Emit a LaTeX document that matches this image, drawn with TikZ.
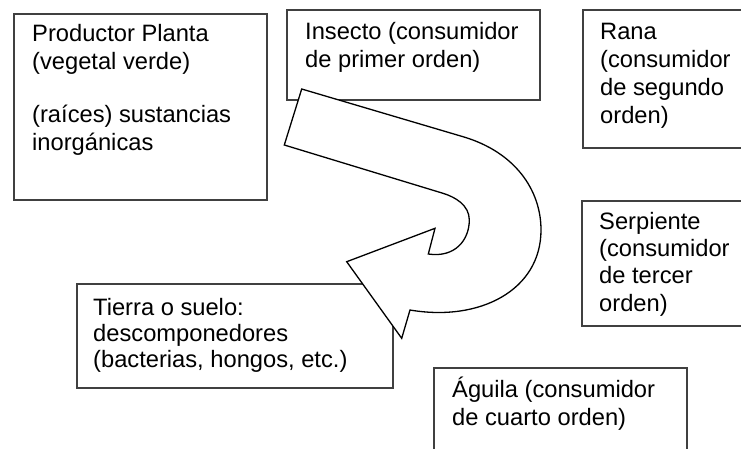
\documentclass[tikz,border=0pt]{standalone}
\usepackage{fontspec}
\setmainfont{Liberation Sans}
\tikzset{
  caja/.style={draw=black!75, line width=1.6pt, fill=white, inner sep=0pt, anchor=north west},
  texto/.style={anchor=base west, align=left, inner sep=0pt, font=\fontsize{23.7}{28}\selectfont}
}

\begin{document}
\begin{tikzpicture}[x=1pt, y=-1pt]
\useasboundingbox (0,0) rectangle (741,448);
\clip (0,0) rectangle (741,448);

\node[caja, minimum width=253pt, minimum height=186pt] (planta) at (13,13) {};
\node[caja, minimum width=253pt, minimum height=90pt] (insecto) at (286,9) {};
\node[caja, minimum width=200pt, minimum height=138pt] (rana) at (582,9) {};
\node[caja, minimum width=200pt, minimum height=125pt] (serpiente) at (581,200) {};
\node[caja, minimum width=316pt, minimum height=104pt] (tierra) at (76,283) {};
\node[caja, minimum width=253pt, minimum height=120pt] (aguila) at (433,367) {};

% texts placed by the baseline of their last line
\node[texto] (plantatxt) at (32,150.5) {Productor Planta\\(vegetal verde)\\[25pt](raíces) sustancias\\inorgánicas};
\node[texto] (insectotxt) at (305,67) {Insecto (consumidor\\de primer orden)};
\node[texto] (ranatxt) at (600,123) {Rana\\(consumidor\\de segundo\\orden)};
\node[texto, font=\fontsize{23.7}{27.3}\selectfont] (serpientetxt) at (599,311) {Serpiente\\(consumidor\\de tercer\\orden)};
\node[texto, font=\fontsize{23.7}{25.8}\selectfont] (tierratxt) at (93,367.5) {Tierra o suelo:\\descomponedores\\(bacterias, hongos, etc.)};
\node[texto] (aguilatxt) at (452,425) {Águila (consumidor\\de cuarto orden)};

\coordinate (A) at (301.7,89);
\coordinate (B) at (463,136.7);
\coordinate (C) at (541,230);
\coordinate (D) at (410,310);
\coordinate (E) at (401.7,338.3);
\coordinate (F) at (346.7,261.7);
\coordinate (G) at (435,228.3);
\coordinate (H) at (428.3,254);
\coordinate (I) at (469.3,220);
\coordinate (J) at (443,193.3);
\coordinate (K) at (284.3,145);

\draw[line width=1.3pt, fill=white] (A) -- (B)
  .. controls (515,152) and (541,190) .. (C)
  .. controls (541,290) and (480,322) .. (D)
  -- (E) -- (F) -- (G) -- (H)
  .. controls (455,258) and (469.3,240) .. (I)
  .. controls (469.3,205) and (455,197) .. (J)
  -- (K) -- cycle;
\end{tikzpicture}
\end{document}
